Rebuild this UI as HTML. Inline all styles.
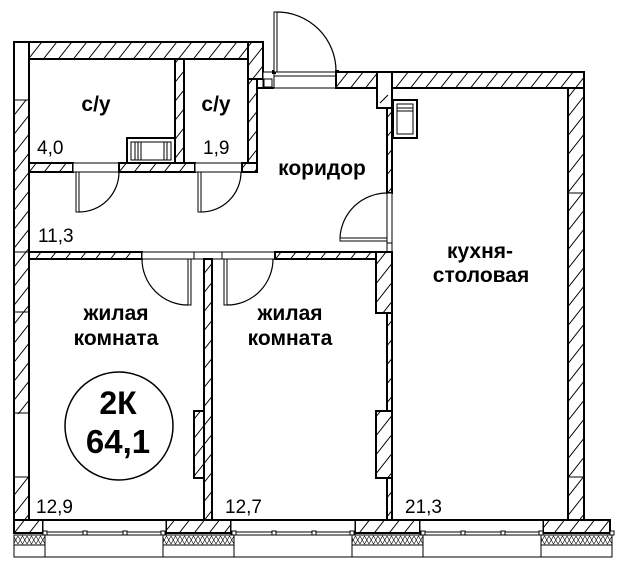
<!DOCTYPE html>
<html><head><meta charset="utf-8"><style>
html,body{margin:0;padding:0;background:#fff;}
svg{display:block;}
.w{fill:url(#h);stroke:#000;stroke-width:2;}
.o{fill:#fff;stroke:#000;stroke-width:1;}
.t{font-family:"Liberation Sans","DejaVu Sans",sans-serif;fill:#000;}
.b{font-weight:bold;font-size:21px;}
.n{font-size:19px;}
</style></head><body>
<svg width="628" height="569" viewBox="0 0 628 569" xmlns="http://www.w3.org/2000/svg">
<defs>
<pattern id="h" patternUnits="userSpaceOnUse" width="15" height="19"><rect width="15" height="19" fill="#fff"/><path d="M0,19 L15,0 M-2,2.5 L2,-2.5 M13,21.5 L17,16.5" stroke="#000" stroke-width="1"/></pattern>
<pattern id="z" patternUnits="userSpaceOnUse" width="9" height="10" x="0" y="535"><rect width="9" height="10" fill="#fff"/><path d="M0,1 L4.5,9 L9,1 M0,9 L4.5,1 L9,9" stroke="#000" stroke-width="0.6" fill="none"/></pattern>
</defs>
<rect width="628" height="569" fill="#fff"/>

<!-- left wall -->
<rect class="w" x="14" y="42" width="15" height="478"/>
<rect x="15" y="43" width="13" height="57" fill="#fff"/>
<rect x="15" y="414" width="13" height="62" fill="#fff"/>
<g stroke="#000" stroke-width="1">
<line x1="14" y1="100" x2="29" y2="100"/>
<line x1="14" y1="252" x2="29" y2="252"/>
<line x1="14" y1="312" x2="29" y2="312"/>
<line x1="14" y1="413" x2="29" y2="413"/>
<line x1="14" y1="477" x2="29" y2="477"/>
</g>

<!-- top walls -->
<rect class="w" x="29" y="42" width="219" height="17"/>
<rect class="w" x="248" y="42" width="15" height="37"/>
<rect class="o" x="263" y="72" width="11" height="16" stroke-width="2"/>
<rect class="o" x="264" y="79" width="8" height="8"/>
<rect class="w" x="248" y="79" width="9" height="93"/>
<line x1="257" y1="88" x2="274" y2="88" stroke="#000" stroke-width="2"/>

<!-- entry opening -->
<rect class="o" x="274" y="72" width="62" height="16"/>
<line x1="274" y1="76" x2="336" y2="76" stroke="#000" stroke-width="1"/>
<rect x="272" y="70" width="4" height="4" fill="#000"/>
<rect x="335" y="70" width="4" height="4" fill="#000"/>
<rect class="o" x="274" y="12" width="3" height="60"/>
<path d="M277,12 A59,59 0 0 1 336,71" fill="none" stroke="#000" stroke-width="1.2"/>

<rect class="w" x="336" y="72" width="41" height="16"/>
<!-- shaft -->
<path d="M377,72 H392 V108 H377 Z" fill="#fff" stroke="#000" stroke-width="2"/>
<line x1="380" y1="103" x2="388" y2="95" stroke="#000" stroke-width="1"/>

<!-- kitchen walls -->
<rect class="w" x="392" y="72" width="192" height="16"/>
<rect class="w" x="568" y="88" width="16" height="432"/>
<line x1="568" y1="193" x2="584" y2="193" stroke="#000" stroke-width="1"/>
<line x1="568" y1="477" x2="584" y2="477" stroke="#000" stroke-width="1"/>

<rect class="w" x="387" y="108" width="5" height="85"/>
<rect class="o" x="387" y="193" width="5" height="50"/>
<rect class="o" x="387" y="243" width="5" height="9" stroke-width="1.5"/>
<rect class="o" x="340" y="238" width="47" height="3"/>
<path d="M340,238 A47,47 0 0 1 387,193" fill="none" stroke="#000" stroke-width="1.2"/>

<!-- bathrooms -->
<rect class="w" x="175" y="59" width="9" height="104"/>
<rect class="w" x="29" y="163" width="44" height="9"/>
<rect class="o" x="73" y="163" width="46" height="9"/>
<rect class="w" x="119" y="163" width="76" height="9"/>
<rect class="o" x="195" y="163" width="47" height="9"/>
<rect class="w" x="242" y="163" width="15" height="9"/>
<rect class="o" x="76" y="172" width="3" height="40"/>
<path d="M79,212 A40,40 0 0 0 119,172" fill="none" stroke="#000" stroke-width="1.2"/>
<rect class="o" x="198" y="172" width="3" height="40"/>
<path d="M201,212 A40,40 0 0 0 241,172" fill="none" stroke="#000" stroke-width="1.2"/>

<!-- bath appliance -->
<rect x="127" y="138" width="48" height="25" fill="#fff" stroke="#000" stroke-width="2"/>
<rect x="131" y="142" width="40" height="18" fill="#fff" stroke="#000" stroke-width="1"/>
<g stroke="#000" stroke-width="1">
<line x1="135" y1="142" x2="135" y2="160"/>
<line x1="138" y1="142" x2="138" y2="160"/>
<line x1="141" y1="142" x2="141" y2="160"/>
<line x1="164" y1="142" x2="164" y2="160"/>
<line x1="167" y1="142" x2="167" y2="160"/>
</g>

<!-- kitchen vent -->
<rect x="393" y="100" width="24" height="38" fill="#fff" stroke="#000" stroke-width="2"/>
<rect x="397" y="104" width="16" height="30" fill="#fff" stroke="#000" stroke-width="1"/>
<line x1="397" y1="108" x2="413" y2="108" stroke="#000" stroke-width="1"/>
<line x1="397" y1="111" x2="413" y2="111" stroke="#000" stroke-width="1"/>

<!-- corridor / rooms wall -->
<rect class="w" x="29" y="252" width="113" height="7"/>
<rect class="o" x="142" y="252" width="52" height="7"/>
<rect class="o" x="194" y="252" width="28" height="7" stroke-width="1.5"/>
<rect class="o" x="222" y="252" width="53" height="7"/>
<rect class="w" x="275" y="252" width="102" height="7"/>
<rect class="w" x="376" y="252" width="16" height="61"/>

<rect class="o" x="188" y="259" width="3" height="46"/>
<path d="M142,259 A46,46 0 0 0 188,305" fill="none" stroke="#000" stroke-width="1.2"/>
<rect class="o" x="224" y="259" width="3" height="46"/>
<path d="M227,305 A46,46 0 0 0 273,259" fill="none" stroke="#000" stroke-width="1.2"/>

<!-- partitions -->
<rect class="w" x="204" y="259" width="8" height="261"/>
<rect class="w" x="194" y="411" width="10" height="67"/>
<rect class="w" x="387" y="313" width="5" height="207"/>
<rect class="w" x="376" y="411" width="16" height="67"/>

<!-- bottom -->
<rect class="w" x="14" y="520" width="29" height="13"/>
<rect class="w" x="166" y="520" width="65" height="13"/>
<rect class="w" x="355" y="520" width="65" height="13"/>
<rect class="w" x="543" y="520" width="67" height="13"/>
<rect class="o" x="43" y="520" width="123" height="13"/>
<rect class="o" x="231" y="520" width="124" height="13"/>
<rect class="o" x="420" y="520" width="123" height="13"/>
<line x1="29" y1="520" x2="568" y2="520" stroke="#000" stroke-width="2"/>
<g class="o">
<rect x="43" y="532" width="123" height="3"/>
<rect x="231" y="532" width="124" height="3"/>
<rect x="420" y="532" width="123" height="3"/>
<rect x="43" y="531" width="4" height="4"/><rect x="83" y="531" width="4" height="4"/><rect x="123" y="531" width="4" height="4"/><rect x="161" y="531" width="4" height="4"/>
<rect x="232" y="531" width="4" height="4"/><rect x="272" y="531" width="4" height="4"/><rect x="312" y="531" width="4" height="4"/><rect x="350" y="531" width="4" height="4"/>
<rect x="421" y="531" width="4" height="4"/><rect x="461" y="531" width="4" height="4"/><rect x="501" y="531" width="4" height="4"/><rect x="539" y="531" width="4" height="4"/>
<rect x="610" y="531" width="4" height="4"/>
<rect x="45" y="535" width="118" height="22"/>
<rect x="234" y="535" width="118" height="22"/>
<rect x="423" y="535" width="118" height="22"/>
<rect x="14" y="545" width="31" height="12"/>
<rect x="163" y="545" width="71" height="12"/>
<rect x="352" y="545" width="71" height="12"/>
<rect x="541" y="545" width="71" height="12"/>
</g>
<g fill="url(#z)" stroke="#000" stroke-width="1">
<rect x="14" y="535" width="31" height="10"/>
<rect x="163" y="535" width="71" height="10"/>
<rect x="352" y="535" width="71" height="10"/>
<rect x="541" y="535" width="71" height="10"/>
</g>

<!-- circle -->
<circle cx="119" cy="426" r="54" fill="none" stroke="#000" stroke-width="1.5"/>

<!-- texts -->
<g class="t">
<text class="b" x="96" y="111" text-anchor="middle">с/у</text>
<text class="b" x="216" y="111" text-anchor="middle">с/у</text>
<text class="n" x="37" y="154">4,0</text>
<text class="n" x="203" y="154">1,9</text>
<text class="n" x="38" y="242">11,3</text>
<text class="b" x="322" y="175" text-anchor="middle">коридор</text>
<text class="b" x="480" y="258" text-anchor="middle">кухня-</text>
<text class="b" x="481" y="282" text-anchor="middle">столовая</text>
<text class="b" x="116" y="320" text-anchor="middle">жилая</text>
<text class="b" x="116" y="345" text-anchor="middle">комната</text>
<text class="b" x="290" y="320" text-anchor="middle">жилая</text>
<text class="b" x="290" y="345" text-anchor="middle">комната</text>
<text x="118" y="414" text-anchor="middle" font-weight="bold" font-size="32">2К</text>
<text x="118" y="453" text-anchor="middle" font-weight="bold" font-size="33">64,1</text>
<text class="n" x="36" y="513">12,9</text>
<text class="n" x="225" y="513">12,7</text>
<text class="n" x="405" y="513">21,3</text>
</g>
</svg>
</body></html>
